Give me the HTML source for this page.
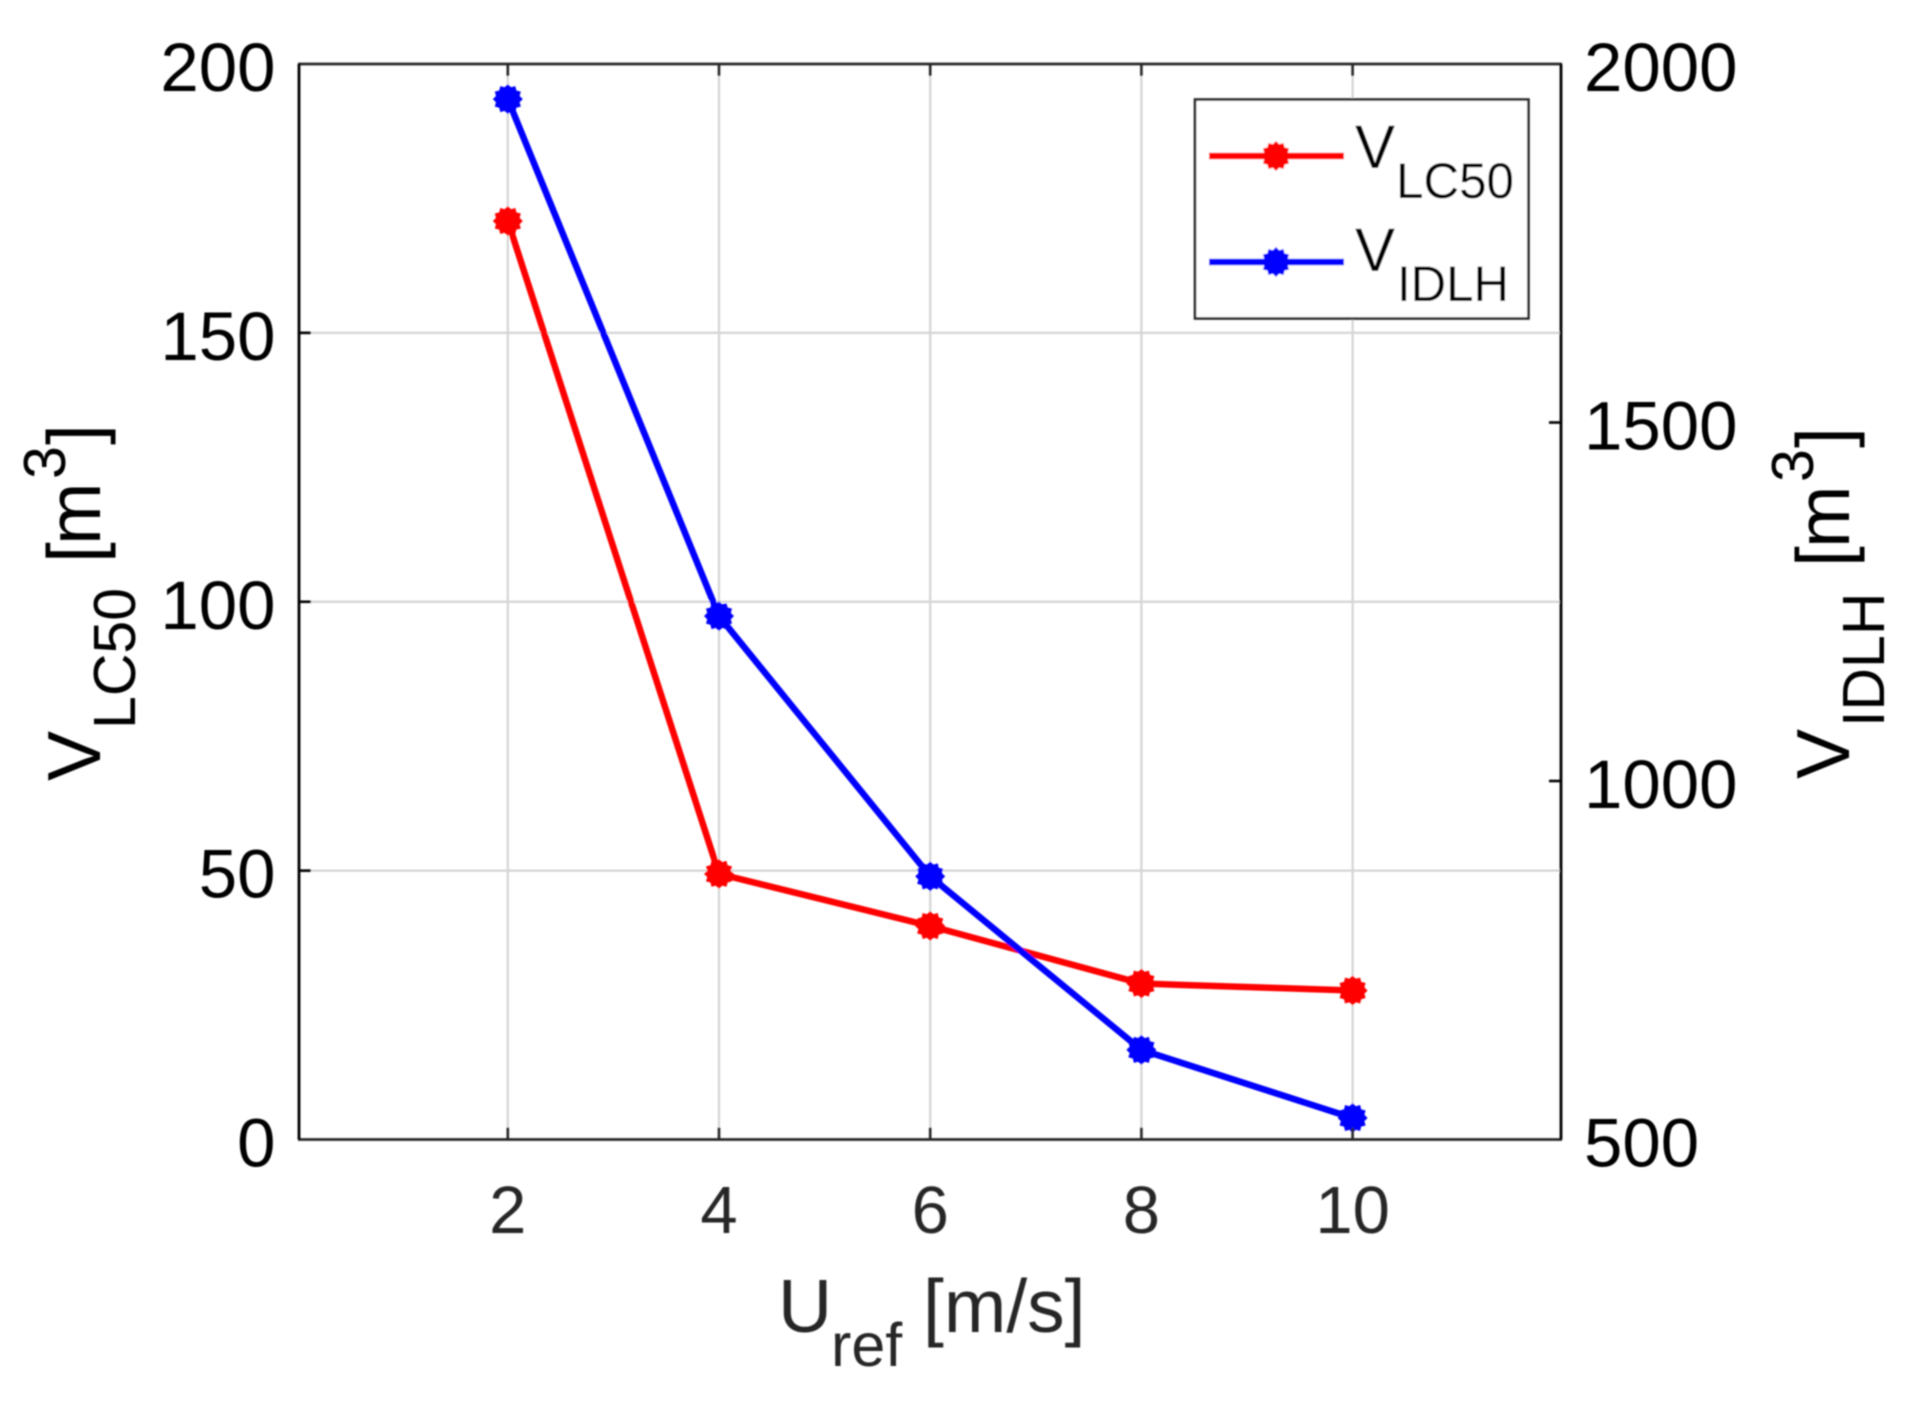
<!DOCTYPE html>
<html lang="en">
<head>
<meta charset="utf-8">
<title>VLC50 and VIDLH versus Uref</title>
<style>
html,body{margin:0;padding:0;background:#fff;}
svg{display:block;font-family:"Liberation Sans",Arial,sans-serif;}
</style>
</head>
<body>
<svg id="chart" xmlns="http://www.w3.org/2000/svg" width="1906" height="1402" viewBox="0 0 1906 1402">
  <defs><filter id="soft" x="-2%" y="-2%" width="104%" height="104%"><feGaussianBlur stdDeviation="0.8"/></filter></defs>
  <rect x="0" y="0" width="1906" height="1402" fill="#fff"/>
  <g id="root" filter="url(#soft)">
    <g id="grid"></g>
    <g id="series"></g>
    <g id="axes"></g>
    <g id="labels"></g>

    <g fill="#262626">
      <text x="778" y="1332" font-size="75">U</text>
      <text x="831" y="1366" font-size="61">ref</text>
      <text x="923" y="1332" font-size="75">[m/s]</text>
    </g>

    <g fill="#000">
      <text transform="translate(100,781) rotate(-90)" font-size="75">V</text>
      <text transform="translate(135,729) rotate(-90)" font-size="59">LC50</text>
      <text transform="translate(100,563) rotate(-90)" font-size="75">[</text>
      <text transform="translate(100,545) rotate(-90)" font-size="75">m</text>
      <text transform="translate(65,479) rotate(-90)" font-size="59">3</text>
      <text transform="translate(100,445) rotate(-90)" font-size="75">]</text>
    </g>

    <g fill="#000">
      <text transform="translate(1849,779) rotate(-90)" font-size="75">V</text>
      <text transform="translate(1884,727) rotate(-90)" font-size="59">IDLH</text>
      <text transform="translate(1849,567) rotate(-90)" font-size="75">[</text>
      <text transform="translate(1849,548) rotate(-90)" font-size="75">m</text>
      <text transform="translate(1813,482) rotate(-90)" font-size="59">3</text>
      <text transform="translate(1849,448) rotate(-90)" font-size="75">]</text>
    </g>

    <g id="legend">
      <rect x="1195" y="99.5" width="333.5" height="219" fill="#fff" stroke="#262626" stroke-width="2.6"/>
      <g>
        <line x1="1209" y1="156" x2="1344" y2="156" stroke="#f00" stroke-width="6.5"/>
        <g id="legend-marker-red"></g>
        <text x="1355" y="168" font-size="61" textLength="40" lengthAdjust="spacingAndGlyphs" fill="#000">V</text>
        <text x="1396" y="198" font-size="50" textLength="118" lengthAdjust="spacingAndGlyphs" fill="#000">LC50</text>
      </g>
      <g>
        <line x1="1209" y1="262" x2="1344" y2="262" stroke="#00f" stroke-width="6.5"/>
        <g id="legend-marker-blue"></g>
        <text x="1355" y="271" font-size="61" textLength="40" lengthAdjust="spacingAndGlyphs" fill="#000">V</text>
        <text x="1397" y="301" font-size="50" textLength="112" lengthAdjust="spacingAndGlyphs" fill="#000">IDLH</text>
      </g>
    </g>
  </g>
</svg>
<script>
// chart data
const windSpeeds = [2, 4, 6, 8, 10];
const vLC50 = [170.8, 49.4, 39.7, 29.0, 27.7];
const vIDLH = [1951, 1230, 867, 625, 530];
const xTicks = [2, 4, 6, 8, 10];
const leftTicks = [0, 50, 100, 150, 200];
const rightTicks = [500, 1000, 1500, 2000];

const NS = 'http://www.w3.org/2000/svg';
function xPos(v) { return 507.8 + (v - 2) * 105.6; }
function yLeft(v) { return 1139.5 - (v / 200) * 1075.5; }
function yRight(v) { return 1139.5 - ((v - 500) / 1500) * 1075.5; }

function make(tag, attrs, parent) {
  const el = document.createElementNS(NS, tag);
  for (const k in attrs) el.setAttribute(k, attrs[k]);
  parent.appendChild(el);
  return el;
}

const grid = document.getElementById('grid');
const axes = document.getElementById('axes');
const labels = document.getElementById('labels');
const seriesLayer = document.getElementById('series');
const L = 299, R = 1561, T = 64, B = 1139.5;

xTicks.forEach(function (t) {
  const x = xPos(t);
  const g = make('line', {x1: x, y1: T, x2: x, y2: B, stroke: '#d4d4d4', 'stroke-width': 2.2}, grid);
  
  
  const tb = make('line', {x1: x, y1: B, x2: x, y2: B - 12, stroke: '#262626', 'stroke-width': 2.6}, axes);
  
  
  const tt = make('line', {x1: x, y1: T, x2: x, y2: T + 12, stroke: '#262626', 'stroke-width': 2.6}, axes);
  
  
  const lab = make('text', {x: x, y: 1233, 'font-size': 67, 'text-anchor': 'middle', fill: '#262626'}, labels);
  
  
  lab.textContent = t;
});

leftTicks.forEach(function (t) {
  const y = yLeft(t);
  if (t > 0 && t < 200) {
    const g = make('line', {x1: L, y1: y, x2: R, y2: y, stroke: '#d4d4d4', 'stroke-width': 2.2}, grid);
    
    
    const tk = make('line', {x1: L, y1: y, x2: L + 12, y2: y, stroke: '#000', 'stroke-width': 2.6}, axes);
    
    
  }
  const lab = make('text', {x: 275.5, y: y + 27, 'font-size': 69, 'text-anchor': 'end', fill: '#000'}, labels);
  
  
  lab.textContent = t;
});

rightTicks.forEach(function (t) {
  const y = yRight(t);
  if (t > 500 && t < 2000) {
    const tk = make('line', {x1: R, y1: y, x2: R - 12, y2: y, stroke: '#000', 'stroke-width': 2.6}, axes);
    
    
  }
  const lab = make('text', {x: 1584, y: y + 27, 'font-size': 69, 'text-anchor': 'start', fill: '#000'}, labels);
  
  
  lab.textContent = t;
});

// axis frame
const frameTop = make('line', {x1: L - 1, y1: T, x2: R + 1, y2: T, stroke: '#262626', 'stroke-width': 2.8}, axes);


const frameBottom = make('line', {x1: L - 1, y1: B, x2: R + 1, y2: B, stroke: '#262626', 'stroke-width': 2.8}, axes);


const frameLeft = make('line', {x1: L, y1: T, x2: L, y2: B, stroke: '#000', 'stroke-width': 2.8}, axes);


const frameRight = make('line', {x1: R, y1: T, x2: R, y2: B, stroke: '#000', 'stroke-width': 2.8}, axes);



function drawMarker(cx, cy, color, parent) {
  const pts = [];
  const n = 24;
  for (let i = 0; i < n; i++) {
    const a = (i / n) * Math.PI * 2 + Math.PI / 2;
    const r = i % 2 === 0 ? 15 : 12.2;
    pts.push((cx + r * Math.cos(a)).toFixed(1) + ',' + (cy + r * Math.sin(a)).toFixed(1));
  }
  return make('polygon', {points: pts.join(' '), fill: color}, parent);
}

function drawSeries(values, yFn, color, name) {
  const pts = windSpeeds.map(function (w, i) { return xPos(w) + ',' + yFn(values[i]); });
  const line = make('polyline', {points: pts.join(' '), fill: 'none', stroke: color, 'stroke-width': 6.5, 'stroke-linejoin': 'round'}, seriesLayer);
  
  
  windSpeeds.forEach(function (w, i) {
    const m = drawMarker(xPos(w), yFn(values[i]), color, seriesLayer);
    
    
  });
}

drawSeries(vLC50, yLeft, '#f00', 'vlc50');
drawSeries(vIDLH, yRight, '#00f', 'vidlh');

const legendRed = drawMarker(1276, 156, '#f00', document.getElementById('legend-marker-red'));


const legendBlue = drawMarker(1276, 262, '#00f', document.getElementById('legend-marker-blue'));


</script>
</body>
</html>
